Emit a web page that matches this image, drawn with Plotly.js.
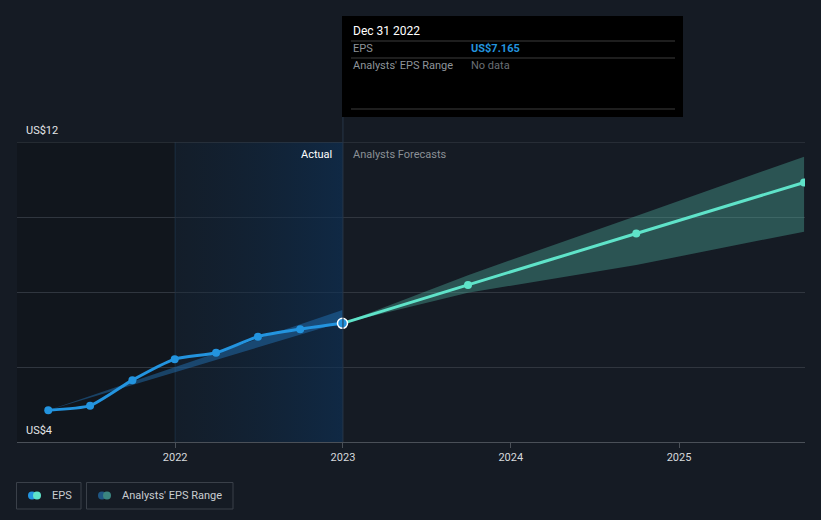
<!DOCTYPE html>
<html>
<head>
<meta charset="utf-8">
<script src="https://cdn.plot.ly/plotly-3.0.1.min.js"></script>
<style>
html,body{margin:0;padding:0;background:#151b24;}
#chart{width:821px;height:520px;}
</style>
</head>
<body>
<div id="chart"></div>
<script>
// ---- data ----
const actualDates = ['2021-03-31','2021-06-30','2021-09-30','2021-12-31','2022-03-31','2022-06-30','2022-09-30','2022-12-31'];
const actualEPS   = [4.85, 4.97, 5.65, 6.21, 6.38, 6.81, 7.01, 7.165];

const forecastDates = ['2022-12-31','2023-09-30','2024-09-30','2025-09-30'];
const forecastEPS   = [7.165, 8.19, 9.56, 10.92];

const pastRangeDates = ['2021-03-31','2022-12-31'];
const pastRangeLow   = [4.85, 7.20];
const pastRangeHigh  = [4.85, 7.52];

const fcRangeDates = ['2022-12-31','2023-09-30','2024-09-30','2025-09-30'];
const fcRangeLow   = [7.165, 7.98, 8.72, 9.61];
const fcRangeHigh  = [7.165, 8.45, 10.03, 11.61];

const xTickVals  = ['2022-01-01','2023-01-01','2024-01-01','2025-01-01'];
const xTickText  = ['2022','2023','2024','2025'];
const yLabels    = [{v:12, t:'US$12'}, {v:4, t:'US$4'}];

// ---- layout helpers (pixel -> paper) ----
const W = 821, H = 520, L = 17, R = 16, T = 142, B = 78;
const pw = W - L - R, ph = H - T - B;
const px = x => (x - L) / pw;
const py = y => (H - B - y) / ph;

const font = 'Roboto, "Open Sans", sans-serif';
const blue = '#2394df', teal = '#5fe3c9';

const traces = [
  // highlight region (2022 -> 2023) with horizontal gradient
  {x:['2022-01-01','2023-01-01','2023-01-01','2022-01-01','2022-01-01'], y:[4,4,12,12,4],
   mode:'lines', line:{width:0}, fill:'toself', hoverinfo:'skip', showlegend:false,
   fillgradient:{type:'horizontal', colorscale:[[0,'rgba(15,35,55,0.3)'],[1,'rgba(12,50,90,0.6)']]}},
  // past analyst range
  {x:pastRangeDates, y:pastRangeLow, mode:'lines', line:{width:0}, hoverinfo:'skip', showlegend:false},
  {x:pastRangeDates, y:pastRangeHigh, mode:'lines', line:{width:0}, fill:'tonexty',
   fillcolor:'rgba(35,120,190,0.45)', hoverinfo:'skip', showlegend:false},
  // forecast range
  {x:fcRangeDates, y:fcRangeLow, mode:'lines', line:{width:0}, hoverinfo:'skip', showlegend:false},
  {x:fcRangeDates, y:fcRangeHigh, mode:'lines', line:{width:0}, fill:'tonexty',
   fillcolor:'rgba(88,200,180,0.33)', hoverinfo:'skip', showlegend:false},
  // forecast line
  {x:forecastDates, y:forecastEPS, mode:'lines+markers', line:{color:teal, width:3, shape:'spline', smoothing:0.5},
   marker:{color:teal, size:8}, showlegend:false},
  // actual line
  {x:actualDates, y:actualEPS, mode:'lines+markers', line:{color:blue, width:3, shape:'spline', smoothing:0.6},
   marker:{color:blue, size:8}, showlegend:false},
  // last actual highlighted point
  {x:[actualDates[actualDates.length-1]], y:[actualEPS[actualEPS.length-1]], mode:'markers',
   marker:{color:blue, size:10, line:{color:'#ffffff', width:1.5}}, showlegend:false}
];

const shapes = [
  // darker region before 2022
  {type:'rect', xref:'paper', yref:'paper', x0:0, x1:px(175), y0:0, y1:1, fillcolor:'rgba(0,0,0,0.18)', line:{width:0}, layer:'below'},
  // vertical line at 2022
  {type:'line', xref:'x', yref:'paper', x0:'2022-01-01', x1:'2022-01-01', y0:0, y1:1, line:{color:'rgba(40,70,100,0.5)', width:1}, layer:'below'},
  // top gridline
  {type:'line', xref:'paper', yref:'y', x0:0, x1:1, y0:12, y1:12, line:{color:'#3a4048', width:1}},
  // cursor line
  {type:'line', xref:'x', yref:'paper', x0:'2023-01-01', x1:'2023-01-01', y0:0, y1:py(117), line:{color:'#273648', width:1}},
  // tooltip box
  {type:'rect', xref:'paper', yref:'paper', x0:px(342), x1:px(683), y0:py(117), y1:py(16), fillcolor:'#000000', line:{width:0}},
  {type:'line', xref:'paper', yref:'paper', x0:px(351), x1:px(675), y0:py(41), y1:py(41), line:{color:'#3c3c3c', width:1}},
  {type:'line', xref:'paper', yref:'paper', x0:px(351), x1:px(675), y0:py(58), y1:py(58), line:{color:'#3c3c3c', width:1}},
  {type:'line', xref:'paper', yref:'paper', x0:px(351), x1:px(675), y0:py(109), y1:py(109), line:{color:'#3c3c3c', width:1}},
  // legend boxes
  {type:'rect', xref:'paper', yref:'paper', x0:px(16.5), x1:px(81), y0:py(509), y1:py(482.5), line:{color:'#3a4049', width:1}, fillcolor:'rgba(0,0,0,0)'},
  {type:'rect', xref:'paper', yref:'paper', x0:px(86.5), x1:px(233), y0:py(509), y1:py(482.5), line:{color:'#3a4049', width:1}, fillcolor:'rgba(0,0,0,0)'},
  // legend icons
  {type:'circle', xref:'paper', yref:'paper', x0:px(28), x1:px(36), y0:py(499.5), y1:py(491.5), fillcolor:blue, line:{width:0}},
  {type:'circle', xref:'paper', yref:'paper', x0:px(33), x1:px(41), y0:py(499.5), y1:py(491.5), fillcolor:teal, line:{width:0}},
  {type:'circle', xref:'paper', yref:'paper', x0:px(98), x1:px(106), y0:py(499.5), y1:py(491.5), fillcolor:'#1f5683', line:{width:0}},
  {type:'circle', xref:'paper', yref:'paper', x0:px(103), x1:px(111), y0:py(499.5), y1:py(491.5), fillcolor:'#3b8580', line:{width:0}}
];

const ann = (x, y, text, color, size, anchor, extra) => Object.assign({
  xref:'paper', yref:'paper', x:px(x), y:py(y), text:text, showarrow:false,
  xanchor:anchor, yanchor:'middle', font:{family:font, size:size, color:color}
}, extra || {});

const annotations = [
  ann(351, 31, 'Dec 31 2022', '#ffffff', 12, 'left'),
  ann(351, 49, 'EPS', '#8e949a', 11, 'left'),
  ann(469, 49, '<b>US$7.165</b>', blue, 11, 'left'),
  ann(351, 66, "Analysts' EPS Range", '#8e949a', 11, 'left'),
  ann(469, 66, 'No data', '#6a6f75', 11, 'left'),
  ann(334, 154, 'Actual', '#ffffff', 11, 'right'),
  ann(351, 154, 'Analysts Forecasts', '#8b9096', 11, 'left'),
  ann(50, 495, 'EPS', '#c9cdd1', 11, 'left'),
  ann(120, 495, "Analysts' EPS Range", '#c9cdd1', 11, 'left')
];
yLabels.forEach(l => annotations.push({
  xref:'paper', yref:'y', x:px(24), y:l.v, yshift:3, text:l.t, showarrow:false,
  xanchor:'left', yanchor:'bottom', font:{family:font, size:11, color:'#e4e6e8'}
}));

const layout = {
  width:W, height:H,
  margin:{l:L, r:R, t:T, b:B, pad:0},
  paper_bgcolor:'#151b24', plot_bgcolor:'#151b24',
  showlegend:false,
  font:{family:font, color:'#d0d3d6', size:11},
  xaxis:{type:'date', range:['2021-01-22','2025-10-02'], tickvals:xTickVals, ticktext:xTickText,
         showgrid:false, zeroline:false, showline:true, linecolor:'#4a5058', linewidth:1,
         ticks:'outside', ticklen:5, tickcolor:'#4a5058', tickfont:{family:font, size:11, color:'#d6d9dc'}, fixedrange:true},
  yaxis:{range:[4,12], dtick:2, showticklabels:false, showgrid:true, gridcolor:'#30363f', gridwidth:1,
         zeroline:false, showline:false, ticks:'', fixedrange:true},
  shapes:shapes, annotations:annotations,
  hovermode:false
};

Plotly.newPlot('chart', traces, layout, {displayModeBar:false, staticPlot:true});
</script>
</body>
</html>
